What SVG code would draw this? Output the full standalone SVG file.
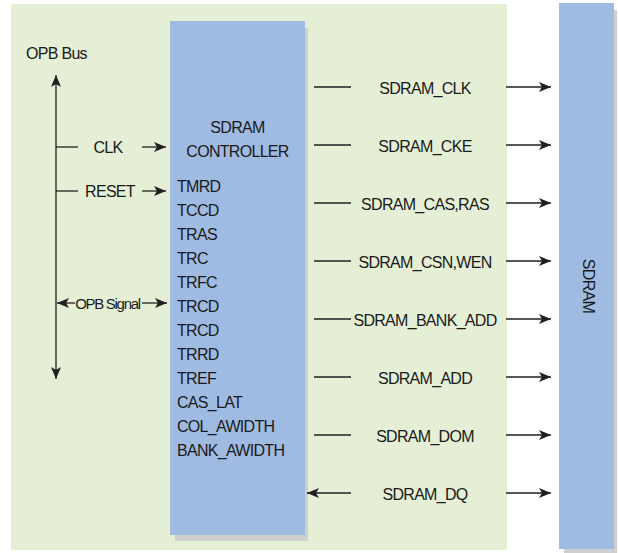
<svg xmlns="http://www.w3.org/2000/svg" width="618" height="553" viewBox="0 0 618 553">
<defs>
<marker id="ah" viewBox="0 0 12 10" refX="12" refY="5" markerWidth="12" markerHeight="10" markerUnits="userSpaceOnUse" orient="auto-start-reverse">
<path d="M0,0 L12,5 L0,10 L3,5 z" fill="#231f20"/>
</marker>
</defs>
<style>
text{font-family:"Liberation Sans",Arial,sans-serif;font-size:16px;letter-spacing:-0.7px;fill:#1a1a1a}
.m{text-anchor:middle}
.ln{stroke:#231f20;stroke-width:1.3;fill:none}
.ar{stroke:#231f20;stroke-width:1.3;fill:none;marker-end:url(#ah)}
.blue{fill:#a0bbe2}
.shadow{fill:#cfcfcf}
</style>
<rect x="0" y="0" width="618" height="553" fill="#ffffff"/>
<rect id="background" x="11" y="4" width="496" height="546" fill="#e4efd6"/>

<g id="controller">
<rect class="shadow" x="175" y="28" width="133" height="513"/>
<rect class="blue" x="170" y="21" width="135" height="514"/>
<text class="m" x="237.5" y="133">SDRAM</text>
<text class="m" x="237.5" y="157">CONTROLLER</text>
<text x="177" y="192">TMRD</text>
<text x="177" y="216">TCCD</text>
<text x="177" y="240">TRAS</text>
<text x="177" y="264">TRC</text>
<text x="177" y="288">TRFC</text>
<text x="177" y="312">TRCD</text>
<text x="177" y="336">TRCD</text>
<text x="177" y="360">TRRD</text>
<text x="177" y="384">TREF</text>
<text x="177" y="408">CAS_LAT</text>
<text x="177" y="432">COL_AWIDTH</text>
<text x="177" y="456">BANK_AWIDTH</text>
</g>

<g id="sdram">
<rect class="shadow" x="564" y="10" width="53" height="543"/>
<rect class="blue" x="559" y="3" width="55" height="546"/>
<text class="m" transform="translate(583,286) rotate(90)" x="0" y="0">SDRAM</text>
</g>

<g id="opb-bus">
<text x="26" y="59">OPB Bus</text>
</g>

<g id="connectors">
<line class="ln" x1="56" y1="75" x2="56" y2="379" marker-start="url(#ah)" marker-end="url(#ah)"/>
<line class="ln" x1="56" y1="147" x2="78" y2="147"/>
<line class="ar" x1="142" y1="147" x2="166" y2="147"/>
<line class="ln" x1="56" y1="191" x2="78" y2="191"/>
<line class="ar" x1="142" y1="191" x2="166" y2="191"/>
<line class="ar" x1="75" y1="303" x2="57" y2="303"/>
<line class="ar" x1="142" y1="303" x2="167" y2="303"/>

<line class="ln" x1="314" y1="87" x2="351" y2="87"/>
<line class="ar" x1="506" y1="87" x2="551" y2="87"/>
<line class="ln" x1="314" y1="145" x2="351" y2="145"/>
<line class="ar" x1="506" y1="145" x2="551" y2="145"/>
<line class="ln" x1="314" y1="203" x2="351" y2="203"/>
<line class="ar" x1="506" y1="203" x2="551" y2="203"/>
<line class="ln" x1="314" y1="261" x2="351" y2="261"/>
<line class="ar" x1="506" y1="261" x2="551" y2="261"/>
<line class="ln" x1="314" y1="319" x2="351" y2="319"/>
<line class="ar" x1="506" y1="319" x2="551" y2="319"/>
<line class="ln" x1="314" y1="377" x2="351" y2="377"/>
<line class="ar" x1="506" y1="377" x2="551" y2="377"/>
<line class="ln" x1="314" y1="435" x2="351" y2="435"/>
<line class="ar" x1="506" y1="435" x2="551" y2="435"/>
<line class="ar" x1="351" y1="493" x2="307" y2="493"/>
<line class="ar" x1="506" y1="493" x2="551" y2="493"/>
</g>

<g id="labels">
<text class="m" x="108" y="153">CLK</text>
<text class="m" x="110" y="197">RESET</text>
<text class="m" x="107.5" y="309" style="font-size:15px;letter-spacing:-1.3px">OPB Signal</text>
<text class="m" x="425" y="93.5">SDRAM_CLK</text>
<text class="m" x="425" y="151.5">SDRAM_CKE</text>
<text class="m" x="425" y="209.5">SDRAM_CAS,RAS</text>
<text class="m" x="425" y="267.5">SDRAM_CSN,WEN</text>
<text class="m" x="425" y="325.5">SDRAM_BANK_ADD</text>
<text class="m" x="425" y="383.5">SDRAM_ADD</text>
<text class="m" x="425" y="441.5">SDRAM_DOM</text>
<text class="m" x="425" y="499.5">SDRAM_DQ</text>
</g>
</svg>
